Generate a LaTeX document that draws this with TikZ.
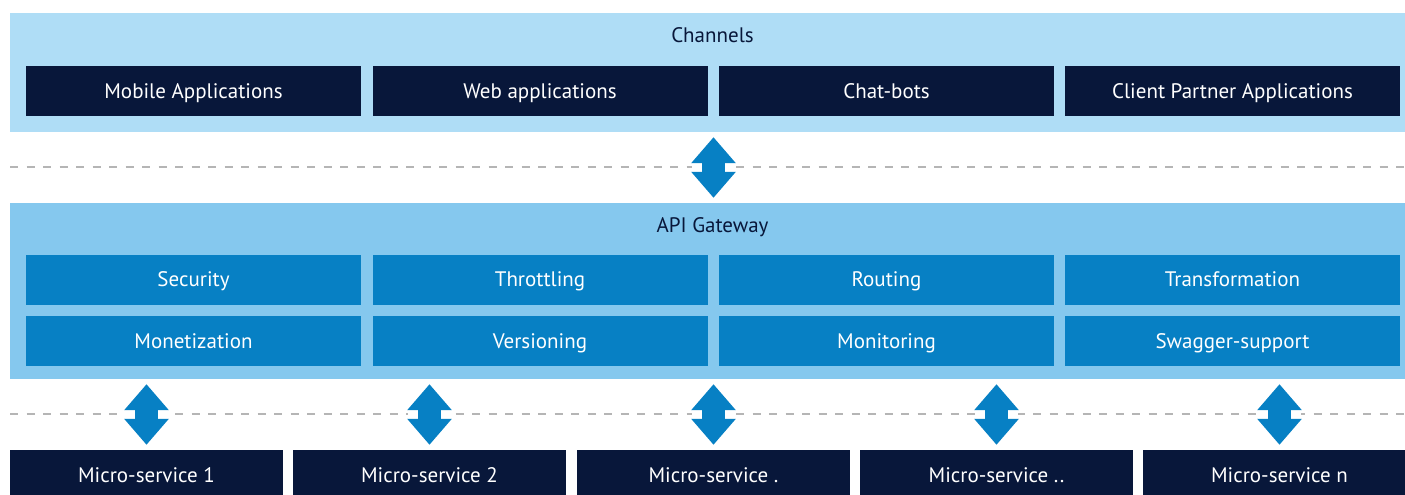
\documentclass[tikz,border=0pt]{standalone}
\usepackage{fontspec}
\setsansfont{PT Sans}
\usetikzlibrary{arrows.meta}
\definecolor{chanbg}{HTML}{AFDDF6}
\definecolor{gwbg}{HTML}{85C8EE}
\definecolor{navy}{HTML}{08173A}
\definecolor{apiblue}{HTML}{0780C4}
\definecolor{sepgray}{HTML}{B5B5B5}

\begin{document}
\begin{tikzpicture}[x=1pt,y=-1pt,font=\sffamily\fontsize{21}{25}\selectfont,
	every node/.style={text height=18pt,text depth=3.5pt},
	panel/.style={rectangle,inner sep=0pt,minimum width=1395pt},
	darkbox/.style={rectangle,fill=navy,text=white,inner sep=0pt,minimum width=335pt,minimum height=50pt},
	bluebox/.style={darkbox,fill=apiblue},
	msbox/.style={darkbox,minimum width=273pt},
	sep/.style={sepgray,line width=2pt,dash pattern=on 8pt off 8.5pt},
	updown/.style={apiblue,line width=23pt,{Triangle[width=43pt,length=26pt]}-{Triangle[width=43pt,length=26pt]},
		shorten <=5pt,shorten >=5pt,preaction={draw=white,line width=43pt,-}}]
	\useasboundingbox (0,0) rectangle (1405,495);
	\clip (0,0) rectangle (1405,495);
	% channels
	\node[panel,fill=chanbg,minimum height=119pt] (chan) at (707.5,72.5) {};
	\node[text=navy] (chantitle) at (712.5,35) {Channels};
	\node[darkbox] (mobile) at (193.5,91) {Mobile Applications};
	\node[darkbox] (web) at (540,91) {Web applications};
	\node[darkbox] (chat) at (886.5,91) {Chat-bots};
	\node[darkbox] (partner) at (1232.5,91) {Client Partner Applications};
	% api gateway
	\node[panel,fill=gwbg,minimum height=176pt] (gw) at (707.5,291) {};
	\node[text=navy] (gwtitle) at (712.5,225) {API Gateway};
	\node[bluebox] (security) at (193.5,279.5) {Security};
	\node[bluebox] (throttling) at (540,279.5) {Throttling};
	\node[bluebox] (routing) at (886.5,279.5) {Routing};
	\node[bluebox] (transform) at (1232.5,279.5) {Transformation};
	\node[bluebox] (monetize) at (193.5,341) {Monetization};
	\node[bluebox] (version) at (540,341) {Versioning};
	\node[bluebox] (monitor) at (886.5,341) {Monitoring};
	\node[bluebox] (swagger) at (1232.5,341) {Swagger-support};
	% micro-services
	\node[msbox] (ms1) at (146.5,475) {Micro-service 1};
	\node[msbox] (ms2) at (429.5,475) {Micro-service 2};
	\node[msbox] (ms3) at (713.5,475) {Micro-service .};
	\node[msbox] (ms4) at (996.5,475) {Micro-service ..};
	\node[msbox] (ms5) at (1279.5,475) {Micro-service n};
	\draw[sep] (10,166.5) -- (1405,166.5);
	\draw[sep] (10,414) -- (1405,414);
	\draw[updown] (ms3 |- chan.south) -- (ms3 |- gw.north);
	\draw[updown] (ms1 |- gw.south) -- (ms1.north);
	\draw[updown] (ms2 |- gw.south) -- (ms2.north);
	\draw[updown] (ms3 |- gw.south) -- (ms3.north);
	\draw[updown] (ms4 |- gw.south) -- (ms4.north);
	\draw[updown] (ms5 |- gw.south) -- (ms5.north);
\end{tikzpicture}
\end{document}
